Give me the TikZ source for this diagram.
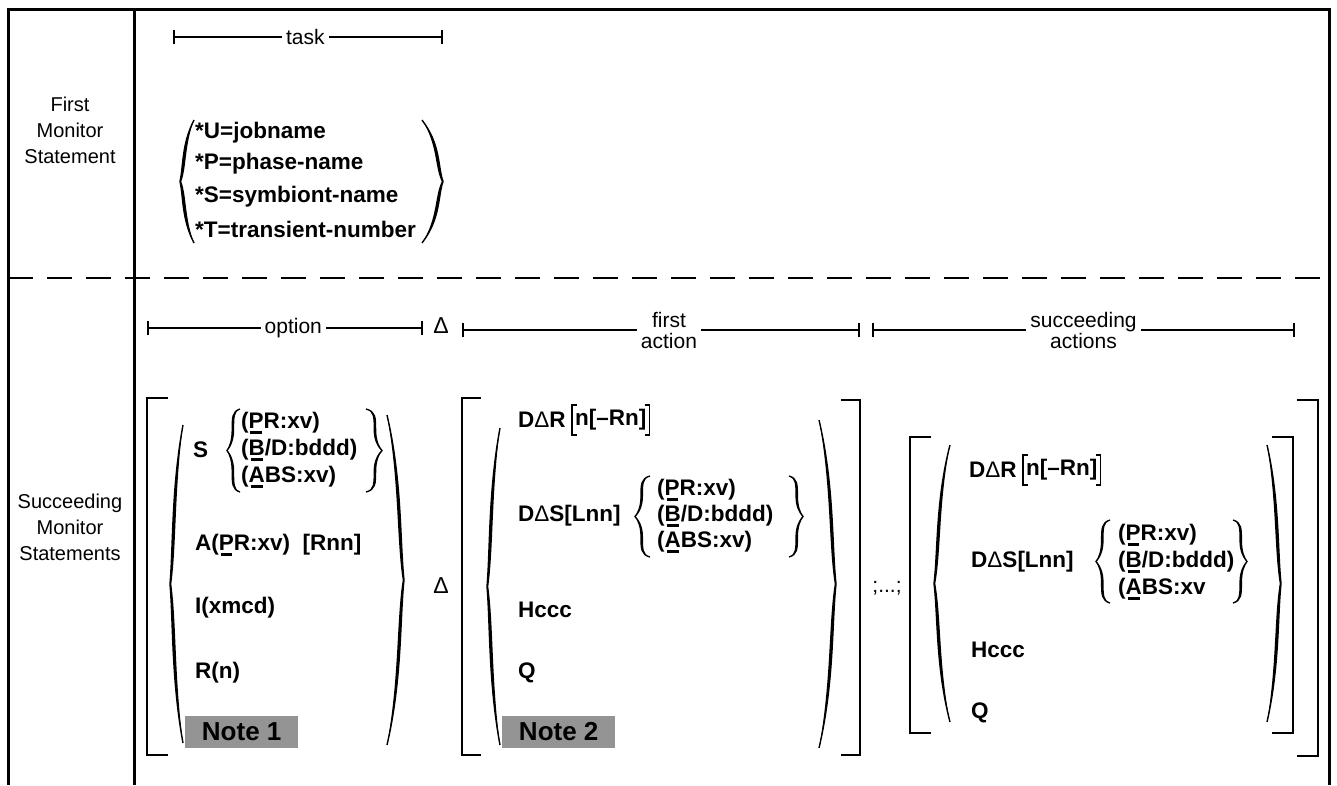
\documentclass[tikz,border=0pt]{standalone}
\usepackage{fontspec}
\setmainfont{Liberation Sans}
\usetikzlibrary{arrows.meta}
\newcommand\ubar[1]{\setbox0=\hbox{#1}\rlap{\hspace{0.12\wd0}\rule[-5pt]{0.76\wd0}{2.4pt}}\box0}
% tall parenthesis-like brace: #1 tip x, #2 end x, #3 top y, #4 bottom y
\newcommand\Prn[4]{%
 \pgfmathsetmacro\brW{#2-(#1)}%
 \pgfmathsetmacro\brH{#4-(#3)}%
 \pgfmathsetmacro\brM{(#3+#4)/2}%
 \pgfmathsetmacro\brD{(\brW>0)?3.2:-3.2}%
 \fill (#2,#3) .. controls ({#1+0.1*\brW},{#3+0.2*\brH}) and ({#1+0.25*\brW},{\brM-0.12*\brH}) .. (#1,\brM)
  .. controls ({#1+0.25*\brW},{\brM+0.12*\brH}) and ({#1+0.1*\brW},{#4-0.2*\brH}) .. (#2,#4)
  .. controls ({#1+0.1*\brW+\brD},{#4-0.2*\brH}) and ({#1+0.25*\brW+\brD},{\brM+0.12*\brH}) .. ({#1+0.4*\brD},\brM)
  .. controls ({#1+0.25*\brW+\brD},{\brM-0.12*\brH}) and ({#1+0.1*\brW+\brD},{#3+0.2*\brH}) .. cycle;
 \draw[brc] (#2,#3) .. controls ({#1+0.1*\brW},{#3+0.2*\brH}) and ({#1+0.25*\brW},{\brM-0.12*\brH}) .. (#1,\brM)
  .. controls ({#1+0.25*\brW},{\brM+0.12*\brH}) and ({#1+0.1*\brW},{#4-0.2*\brH}) .. (#2,#4);}
% curly brace
\newcommand\Crl[4]{%
 \pgfmathsetmacro\brW{#2-(#1)}%
 \pgfmathsetmacro\brH{#4-(#3)}%
 \pgfmathsetmacro\brS{#1+0.4*\brW}%
 \pgfmathsetmacro\brM{(#3+#4)/2}%
 \pgfmathsetmacro\brD{(\brW>0)?2:-2}%
 \pgfmathsetmacro\brT{\brS+\brD}%
 \fill (#2,#3) .. controls (\brS,{#3+0.03*\brH}) and (\brS,{#3+0.1*\brH}) .. (\brS,{#3+0.25*\brH})
  .. controls (\brS,{\brM-0.12*\brH}) and ({#1+0.2*\brW},{\brM-0.04*\brH}) .. (#1,\brM)
  .. controls ({#1+0.2*\brW},{\brM+0.04*\brH}) and (\brS,{\brM+0.12*\brH}) .. (\brS,{#4-0.25*\brH})
  .. controls (\brS,{#4-0.1*\brH}) and (\brS,{#4-0.03*\brH}) .. (#2,#4)
  .. controls (\brT,{#4-0.03*\brH}) and (\brT,{#4-0.1*\brH}) .. (\brT,{#4-0.25*\brH})
  .. controls (\brT,{\brM+0.12*\brH}) and ({#1+0.2*\brW+0.5*\brD},{\brM+0.04*\brH}) .. ({#1+0.3*\brD},\brM)
  .. controls ({#1+0.2*\brW+0.5*\brD},{\brM-0.04*\brH}) and (\brT,{\brM-0.12*\brH}) .. (\brT,{#3+0.25*\brH})
  .. controls (\brT,{#3+0.1*\brH}) and (\brT,{#3+0.03*\brH}) .. cycle;
 \draw[sbr] (#2,#3) .. controls (\brS,{#3+0.03*\brH}) and (\brS,{#3+0.1*\brH}) .. (\brS,{#3+0.25*\brH})
  .. controls (\brS,{\brM-0.12*\brH}) and ({#1+0.2*\brW},{\brM-0.04*\brH}) .. (#1,\brM)
  .. controls ({#1+0.2*\brW},{\brM+0.04*\brH}) and (\brS,{\brM+0.12*\brH}) .. (\brS,{#4-0.25*\brH})
  .. controls (\brS,{#4-0.1*\brH}) and (\brS,{#4-0.03*\brH}) .. (#2,#4);}
\tikzset{
 frame/.style={line width=3pt},
 dashl/.style={line width=2.8pt, dash pattern=on 25pt off 14pt},
 brk/.style={line width=2.3pt},
 brc/.style={line width=1.4pt},
 sbr/.style={line width=1.3pt},
 dim/.style={line width=1.6pt, arrows={Bar[width=14pt,line width=2pt]-Bar[width=14pt,line width=2pt]}},
 dimlab/.style={fill=white, inner sep=4pt, font=\fontsize{21}{21}\selectfont, align=center},
 lab/.style={font=\fontsize{20}{26}\selectfont, align=center},
 itm/.style={anchor=west, inner sep=0pt, font=\bfseries\fontsize{22.5}{26}\selectfont},
 tall/.style={anchor=west, inner xsep=3pt, inner ysep=0pt, minimum height=30pt, font=\bfseries\fontsize{22.5}{26}\selectfont},
 tb/.style={line width=1.8pt},
 note/.style={anchor=west, fill=black!42, inner sep=0pt, minimum width=113pt, minimum height=32pt, font=\bfseries\fontsize{26}{28}\selectfont},
 delta/.style={inner sep=0pt, font=\fontsize{23}{24}\selectfont},
}
\begin{document}
\begin{tikzpicture}[x=1pt,y=-1pt]
\useasboundingbox (0,0) rectangle (1337,785);
% frame
\draw[frame] (8,785) -- (8,9) -- (1329,9) -- (1329,785);
\draw[frame] (134,9) -- (134,785);
\draw[dashl] (8,278) -- (1329,278);
% row labels
\node[lab] (fms) at (70,130) {First\\Monitor\\Statement};
\node[lab] (sms) at (70,527) {Succeeding\\Monitor\\Statements};
% task
\coordinate (tL) at (173,37); \coordinate (tR) at (443,37);
\draw[dim] (tL) -- node[dimlab, pos=0.49]{task} (tR);
\Prn{180}{194}{120}{243}
\node[itm] (tu) at (195,133) {*U=jobname};
\node[itm] (tp) at (195,164) {*P=phase-name};
\node[itm] (ts) at (195,197) {*S=symbiont-name};
\node[itm] (tt) at (195,229) {*T=transient-number};
\Prn{443}{422}{120}{243}
% dimension row
\coordinate (oL) at (147,328); \coordinate (oR) at (423,328);
\draw[dim] (oL) -- node[dimlab, pos=0.53]{option} (oR);
\node[delta] (d0) at (441,326) {Δ};
\coordinate (fL) at (462,330); \coordinate (fR) at (860,330);
\draw[dim] (fL) -- node[dimlab, pos=0.52]{first\\action} (fR);
\coordinate (sL) at (872,330); \coordinate (sR) at (1295,330);
\draw[dim] (sL) -- node[dimlab, pos=0.5]{succeeding\\actions} (sR);
% option group
\draw[brk] (168,398) -- (147,398) -- (147,755) -- (168,755);
\Prn{170}{183}{425}{743}
\node[itm] (os) at (193,450) {S};
\Crl{227}{240}{409}{492}
\node[itm] (o1) at (241,423) {(\ubar{P}R:xv)};
\node[itm] (o2) at (241,450) {(\ubar{B}/D:bddd)};
\node[itm] (o3) at (241,477) {(\ubar{A}BS:xv)};
\Crl{382}{366}{409}{492}
\node[itm] (oa) at (195,545) {A(\ubar{P}R:xv)\ \ [Rnn]};
\node[itm] (oi) at (195,608) {I(xmcd)};
\node[itm] (or) at (195,673) {R(n)};
\node[note] (n1) at (185,732) {Note 1};
\Prn{404}{387}{415}{745}
\node[delta] (d1) at (441,586) {Δ};
% first action group
\draw[brk] (481,398) -- (462,398) -- (462,755) -- (481,755);
\Prn{487}{500}{428}{745}
\node[itm] (fr) at (518,420) {D{\mdseries Δ}R};
\node[tall] (frb) at ([xshift=6pt]fr.east) {n[–Rn]};
\draw[tb] ([xshift=5pt]frb.north west) -- (frb.north west) -- (frb.south west) -- ([xshift=5pt]frb.south west);
\draw[tb] ([xshift=-5pt]frb.north east) -- (frb.north east) -- (frb.south east) -- ([xshift=-5pt]frb.south east);
\node[itm] (fs) at (518,516) {D{\mdseries Δ}S[Lnn]};
\Crl{635}{650}{476}{557}
\node[itm] (f1) at (657,490) {(\ubar{P}R:xv)};
\node[itm] (f2) at (657,516) {(\ubar{B}/D:bddd)};
\node[itm] (f3) at (657,542) {(\ubar{A}BS:xv)};
\Crl{803}{789}{476}{557}
\node[itm] (fh) at (518,610) {Hccc};
\node[itm] (fq) at (518,673) {Q};
\node[note] (n2) at (502,732) {Note 2};
\Prn{836}{819}{420}{748}
\draw[brk] (841,400) -- (860,400) -- (860,755) -- (841,755);
\node[font=\fontsize{21}{22}\selectfont] (semi) at (887,588) {;...;};
% succeeding actions group
\draw[brk] (931,437) -- (910,437) -- (910,733) -- (931,733);
\Prn{934}{950}{445}{722}
\node[itm] (sr) at (969,470) {D{\mdseries Δ}R};
\node[tall] (srb) at ([xshift=6pt]sr.east) {n[–Rn]};
\draw[tb] ([xshift=5pt]srb.north west) -- (srb.north west) -- (srb.south west) -- ([xshift=5pt]srb.south west);
\draw[tb] ([xshift=-5pt]srb.north east) -- (srb.north east) -- (srb.south east) -- ([xshift=-5pt]srb.south east);
\node[itm] (ss) at (971,562) {D{\mdseries Δ}S[Lnn]};
\Crl{1096}{1110}{520}{603}
\node[itm] (s1) at (1118,535) {(\ubar{P}R:xv)};
\node[itm] (s2) at (1118,562) {(\ubar{B}/D:bddd)};
\node[itm] (s3) at (1118,589) {(\ubar{A}BS:xv};
\Crl{1247}{1233}{520}{603}
\node[itm] (sh) at (971,650) {Hccc};
\node[itm] (sq) at (971,713) {Q};
\Prn{1281}{1267}{445}{722}
\draw[brk] (1272,437) -- (1293,437) -- (1293,733) -- (1272,733);
\draw[brk] (1297,400) -- (1318,400) -- (1318,756) -- (1297,756);
\end{tikzpicture}
\end{document}
